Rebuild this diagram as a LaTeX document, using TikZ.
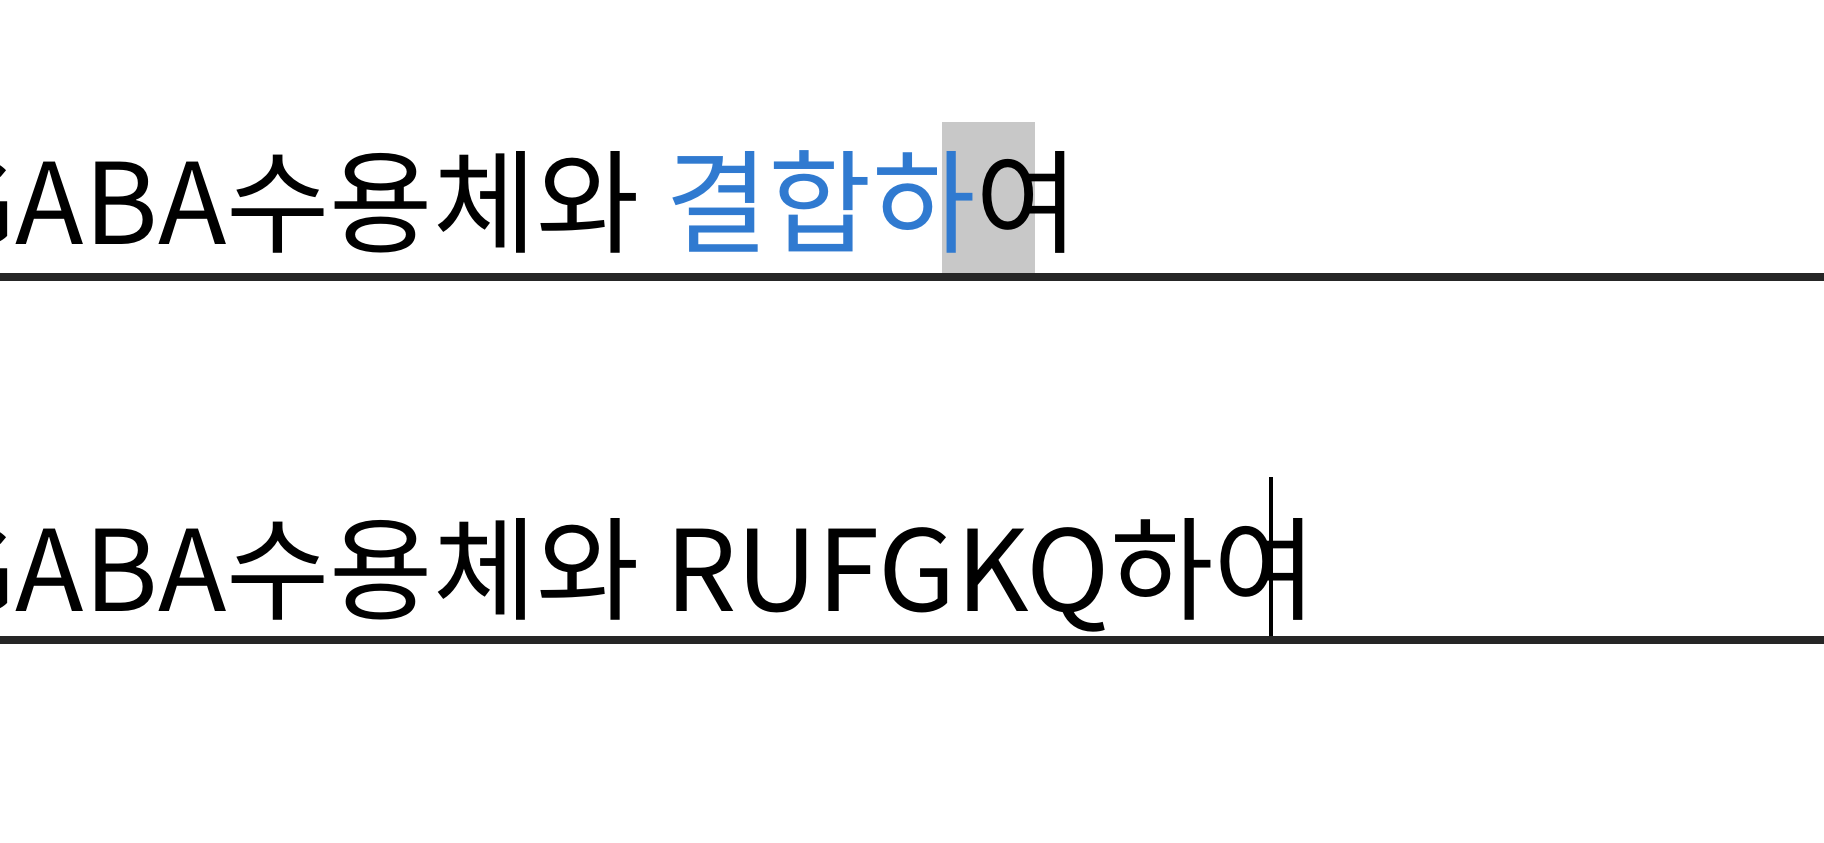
\documentclass[tikz,border=0pt]{standalone}
\usepackage{fontspec}
\newfontfamily\kofont{Noto Sans CJK KR}
\definecolor{linkblue}{RGB}{48,122,208}
\definecolor{markgray}{RGB}{200,200,200}
\tikzset{
  rowtext/.style={inner sep=0pt, anchor=base west, font=\kofont\fontsize{32}{36}\selectfont},
  ruleline/.style={line width=2.2pt, black!85}
}
\begin{document}
\begin{tikzpicture}
\useasboundingbox (0,0) rectangle (18.24,8.42);
% highlight behind the last syllable
\fill[markgray] (9.42,5.69) rectangle (10.35,7.20);
\node[rowtext] (first) at (-0.62,5.98) {GABA수용체와\ \textcolor{linkblue}{결합하}여};
\draw[ruleline] (0,5.65) -- (18.24,5.65);
\node[rowtext] (second) at (-0.62,2.31) {GABA수용체와\ RUFGKQ하여};
% text cursor
\coordinate (curtop) at (12.71,3.65);
\coordinate (curbot) at (12.71,2.02);
\draw[line width=1.2pt] (curtop) -- (curbot);
\draw[ruleline] (0,2.02) -- (18.24,2.02);
\end{tikzpicture}
\end{document}
